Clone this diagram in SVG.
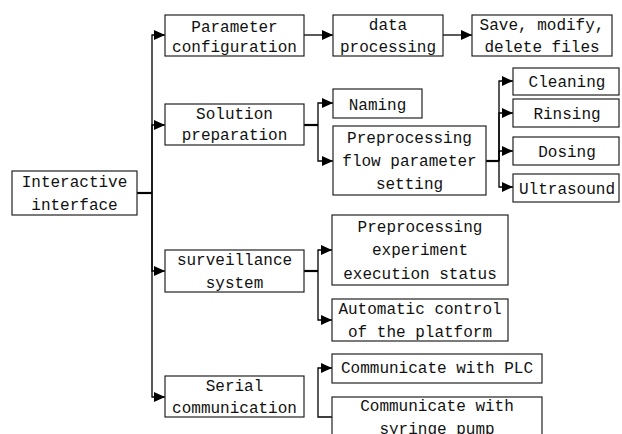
<svg xmlns="http://www.w3.org/2000/svg" width="622" height="434" viewBox="0 0 622 434">
<defs>
<marker id="ah" markerUnits="userSpaceOnUse" markerWidth="11" markerHeight="10" refX="11" refY="5" orient="auto">
<path d="M0,0 L11,5 L0,10 Z" fill="#000"/>
</marker>
<style>
.box rect{fill:#fff;stroke:#222;stroke-width:1.2}
.box text{font-family:"Liberation Mono","DejaVu Sans Mono",monospace;font-size:16px;fill:#111;text-anchor:middle}
.c path{fill:none;stroke:#000;stroke-width:1.3}
.c .a{marker-end:url(#ah)}
.c .t{stroke-width:2.2}
</style>
</defs>
<rect width="622" height="434" fill="#fff"/>
<g class="c">
<path class="t" d="M137,193 H152"/>
<path class="a" d="M152,193 V35 H165"/>
<path class="a" d="M152,193 V125 H165"/>
<path class="a" d="M152,193 V271 H165"/>
<path class="a" d="M152,193 V397 H165"/>
<path class="a" d="M304,35 H333"/>
<path class="a" d="M443,35 H472"/>
<path class="t" d="M304,125 H318"/>
<path class="a" d="M318,125 V103 H333"/>
<path class="a" d="M318,125 V161 H333"/>
<path class="t" d="M486,161 H499"/>
<path class="a" d="M499,161 V81 H513"/>
<path class="a" d="M499,161 V113 H513"/>
<path class="a" d="M499,161 V151 H513"/>
<path class="a" d="M499,161 V187 H513"/>
<path class="t" d="M304,271 H318"/>
<path class="a" d="M318,271 V250 H332"/>
<path class="a" d="M318,271 V320 H332"/>
<path class="a" d="M332,417 H318 V368 H332"/>
</g>
<g id="interactive" class="box"><rect x="12" y="171" width="125" height="44"/><text x="74.5" y="187">Interactive</text><text x="74.5" y="210">interface</text></g>
<g id="param" class="box"><rect x="165" y="15" width="139" height="41"/><text x="234.5" y="32">Parameter</text><text x="234.5" y="52">configuration</text></g>
<g id="data" class="box"><rect x="333" y="15" width="110" height="41"/><text x="388" y="30">data</text><text x="388" y="52">processing</text></g>
<g id="save" class="box"><rect x="472" y="15" width="140" height="41"/><text x="542" y="30">Save, modify,</text><text x="542" y="52">delete files</text></g>
<g id="solution" class="box"><rect x="165" y="104" width="139" height="41"/><text x="234.5" y="119">Solution</text><text x="234.5" y="140">preparation</text></g>
<g id="naming" class="box"><rect x="333" y="89" width="89" height="29"/><text x="377.5" y="110">Naming</text></g>
<g id="flow" class="box"><rect x="333" y="126" width="153" height="69"/><text x="409.5" y="143">Preprocessing</text><text x="409.5" y="166">flow parameter</text><text x="409.5" y="189">setting</text></g>
<g id="cleaning" class="box"><rect x="513" y="68" width="106" height="27"/><text x="567" y="87">Cleaning</text></g>
<g id="rinsing" class="box"><rect x="513" y="99" width="106" height="28"/><text x="567" y="119">Rinsing</text></g>
<g id="dosing" class="box"><rect x="513" y="137" width="106" height="28"/><text x="567" y="157">Dosing</text></g>
<g id="ultrasound" class="box"><rect x="513" y="174" width="106" height="28"/><text x="567" y="194">Ultrasound</text></g>
<g id="surveillance" class="box"><rect x="165" y="250" width="139" height="42"/><text x="234.5" y="265">surveillance</text><text x="234.5" y="288">system</text></g>
<g id="status" class="box"><rect x="332" y="215" width="176" height="70"/><text x="420" y="232">Preprocessing</text><text x="420" y="255">experiment</text><text x="420" y="279">execution status</text></g>
<g id="auto" class="box"><rect x="332" y="299" width="176" height="42"/><text x="420" y="314">Automatic control</text><text x="420" y="337">of the platform</text></g>
<g id="serial" class="box"><rect x="165" y="376" width="139" height="41"/><text x="234.5" y="391">Serial</text><text x="234.5" y="413">communication</text></g>
<g id="plc" class="box"><rect x="332" y="354" width="210" height="29"/><text x="437" y="373">Communicate with PLC</text></g>
<g id="syringe" class="box"><rect x="332" y="397" width="210" height="50"/><text x="437" y="411">Communicate with</text><text x="437" y="434">syringe pump</text></g>
</svg>
